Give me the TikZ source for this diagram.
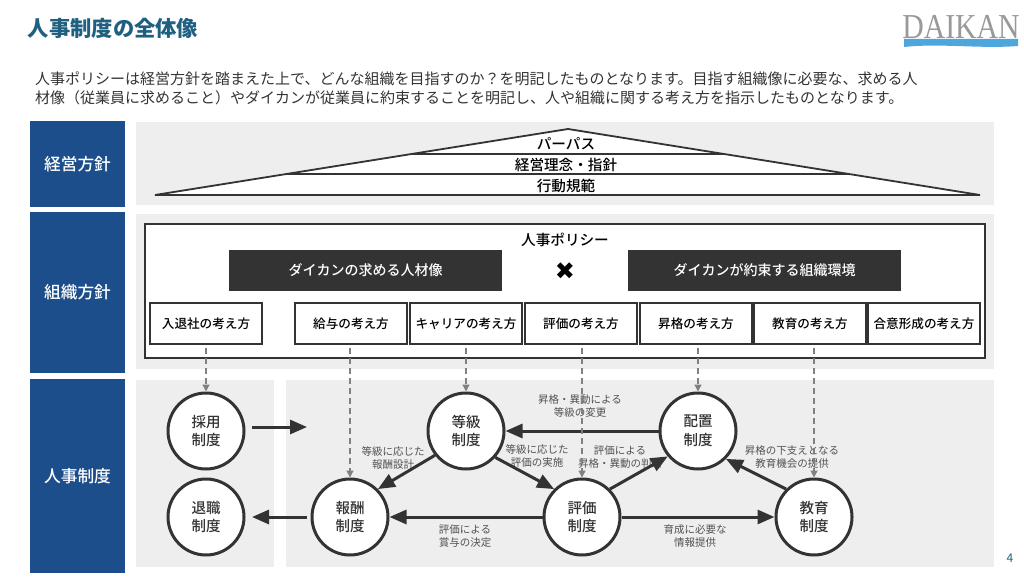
\documentclass[tikz,border=0pt]{standalone}
\usepackage{fontspec}
\setmainfont{Noto Sans CJK JP}
\newfontfamily\medfont{Noto Sans CJK JP Medium}
\newfontfamily\symfont{DejaVu Sans}
\newfontfamily\logofont{Liberation Serif}
\usetikzlibrary{arrows.meta,calc}
\definecolor{headblue}{HTML}{1C4E8C}
\definecolor{titleteal}{HTML}{1F5F80}
\definecolor{panelgray}{HTML}{EEEEEE}
\definecolor{inkdark}{HTML}{333333}
\definecolor{logoblue}{HTML}{4FA6DC}
\tikzset{
  headbox/.style={fill=headblue,text=white,inner sep=0pt,minimum width=95pt,font=\fontsize{16.7}{20}\selectfont\medfont},
  darkbox/.style={fill=inkdark,text=white,inner sep=0pt,minimum width=273pt,minimum height=41pt,font=\fontsize{14}{16}\selectfont\medfont},
  viewbox/.style={draw=inkdark,line width=1.5pt,fill=white,inner sep=0pt,minimum width=112pt,minimum height=41pt,font=\fontsize{12.6}{15}\selectfont\medfont},
  sysnode/.style={circle,draw=inkdark,line width=3pt,fill=white,text=inkdark,inner sep=0pt,minimum size=76pt,align=center,font=\fontsize{14.5}{18.7}\selectfont\medfont},
  linktext/.style={text=inkdark!85,inner sep=0pt,align=center,font=\fontsize{10.5}{13}\selectfont},
  roofword/.style={inner sep=0pt,font=\fontsize{14.6}{17}\selectfont\medfont},
  flow/.style={line width=3pt,draw=inkdark,-{Triangle[length=17pt,width=14pt,fill=inkdark]}},
  feed/.style={line width=1.3pt,draw=gray,dash pattern=on 6pt off 4pt,shorten <=3pt,-{Triangle[length=7pt,width=7pt,fill=gray]}},
}
\begin{document}
\begin{tikzpicture}[x=1pt,y=-1pt]
\useasboundingbox (0,0) rectangle (1024,577);

\node[text=titleteal,inner sep=0pt,font=\fontsize{21.3}{24}\selectfont\bfseries] (title) at (113,28) {人事制度の全体像};
\node[text=gray!80,inner sep=0pt,xscale=0.85,font=\fontsize{35}{36}\selectfont\logofont] (logo) at (961,27) {DAIKAN};
\fill[logoblue] (904,39) -- (904,47) .. controls (940,43) and (980,49) .. (1018,46) -- (1018,39) -- cycle;

\node[anchor=west,inner sep=0pt,align=left,text=inkdark,font=\fontsize{15}{19.5}\selectfont] (intro) at (35,88.5)
  {人事ポリシーは経営方針を踏まえた上で、どんな組織を目指すのか？を明記したものとなります。目指す組織像に必要な、求める人\\
   材像（従業員に求めること）やダイカンが従業員に約束することを明記し、人や組織に関する考え方を指示したものとなります。};

% left column
\node[headbox,minimum height=86pt] (headtop) at (77.5,164) {経営方針};
\node[headbox,minimum height=161pt] (headmid) at (77.5,292.5) {組織方針};
\node[headbox,minimum height=194pt] (headlow) at (77.5,476) {人事制度};

% gray panels
\fill[panelgray] (136,122) rectangle (994,205);
\fill[panelgray] (136,214) rectangle (994,369);
\fill[panelgray] (136,380) rectangle (274,567);
\fill[panelgray] (286,380) rectangle (994,567);

% roof
\coordinate (roofa) at (568,129);
\coordinate (roofl) at (155,195);
\coordinate (roofr) at (980,195);
\draw[line width=1.8pt,draw=inkdark,fill=white] (roofa) -- (roofl) -- (roofr) -- cycle;
\draw[line width=1.8pt,draw=inkdark] ($(roofa)!0.379!(roofl)$) -- ($(roofa)!0.379!(roofr)$);
\draw[line width=1.8pt,draw=inkdark] ($(roofa)!0.68!(roofl)$) -- ($(roofa)!0.68!(roofr)$);
\node[roofword] (purpose) at (566,144) {パーパス};
\node[roofword] (creed) at (566,165) {経営理念・指針};
\node[roofword] (conduct) at (566,185.5) {行動規範};

% policy box
\draw[line width=1.5pt,draw=inkdark,fill=white] (145,224) rectangle (985,358);
\node[roofword] (policy) at (565,240) {人事ポリシー};
\node[darkbox] (wanted) at (365.5,270.5) {ダイカンの求める人材像};
\node[darkbox] (promise) at (764.5,270.5) {ダイカンが約束する組織環境};
\node[inner sep=0pt,font=\fontsize{24}{24}\selectfont\symfont] (cross) at (565,271) {✖};

\node[viewbox] (vhire) at (206,323.5) {入退社の考え方};
\node[viewbox] (vpay) at (351,323.5) {給与の考え方};
\node[viewbox] (vcareer) at (466,323.5) {キャリアの考え方};
\node[viewbox] (vrate) at (581,323.5) {評価の考え方};
\node[viewbox] (vpromo) at (696,323.5) {昇格の考え方};
\node[viewbox] (vedu) at (810,323.5) {教育の考え方};
\node[viewbox] (vagree) at (924,323.5) {合意形成の考え方};

% systems
\node[sysnode] (hire) at (206,431) {採用\\制度};
\node[sysnode] (leave) at (206,517) {退職\\制度};
\node[sysnode] (pay) at (350,517) {報酬\\制度};
\node[sysnode] (grade) at (466,431) {等級\\制度};
\node[sysnode] (rate) at (582,517) {評価\\制度};
\node[sysnode] (place) at (698,431) {配置\\制度};
\node[sysnode] (edu) at (814,517) {教育\\制度};

\node[linktext] (t1) at (580,406.5) {昇格・異動による\\等級の変更};
\node[linktext] (t2) at (393,457.5) {等級に応じた\\報酬設計};
\node[linktext] (t3) at (537,455.5) {等級に応じた\\評価の実施};
\node[linktext] (t4) at (620,457.5) {評価による\\昇格・異動の判断};
\node[linktext] (t5) at (792,457.5) {昇格の下支えとなる\\教育機会の提供};
\node[linktext] (t6) at (465,536.5) {評価による\\賞与の決定};
\node[linktext] (t7) at (695,536.5) {育成に必要な\\情報提供};

\coordinate (hireout) at (252,427);
\coordinate (hireend) at (307,427);
\coordinate (payout) at (307,517);
\coordinate (leaveend) at (252,517);

\draw[flow] (hireout) -- (hireend);
\draw[flow] (payout) -- (leaveend);
\draw[flow] (rate.west) -- (pay.east);
\draw[flow] (rate.east) -- (edu.west);
\draw[flow] (place.west) -- (grade.east);
\draw[flow] (grade.218) -- (pay.45);
\draw[flow] (grade.-42) -- (rate.135);
\draw[flow] (rate.45) -- (place.220);
\draw[flow] (edu.135) -- (place.-45);

\draw[feed] (hire.north |- vhire.south) -- (hire.north);
\draw[feed] (pay.north |- vpay.south) -- (pay.north);
\draw[feed] (grade.north |- vcareer.south) -- (grade.north);
\draw[feed] (rate.north |- vrate.south) -- (rate.north);
\draw[feed] (place.north |- vpromo.south) -- (place.north);
\draw[feed] (edu.north |- vedu.south) -- (edu.north);

\node[text=titleteal,inner sep=0pt,font=\fontsize{12}{14}\selectfont] (pageno) at (1010,558) {4};
\end{tikzpicture}
\end{document}
